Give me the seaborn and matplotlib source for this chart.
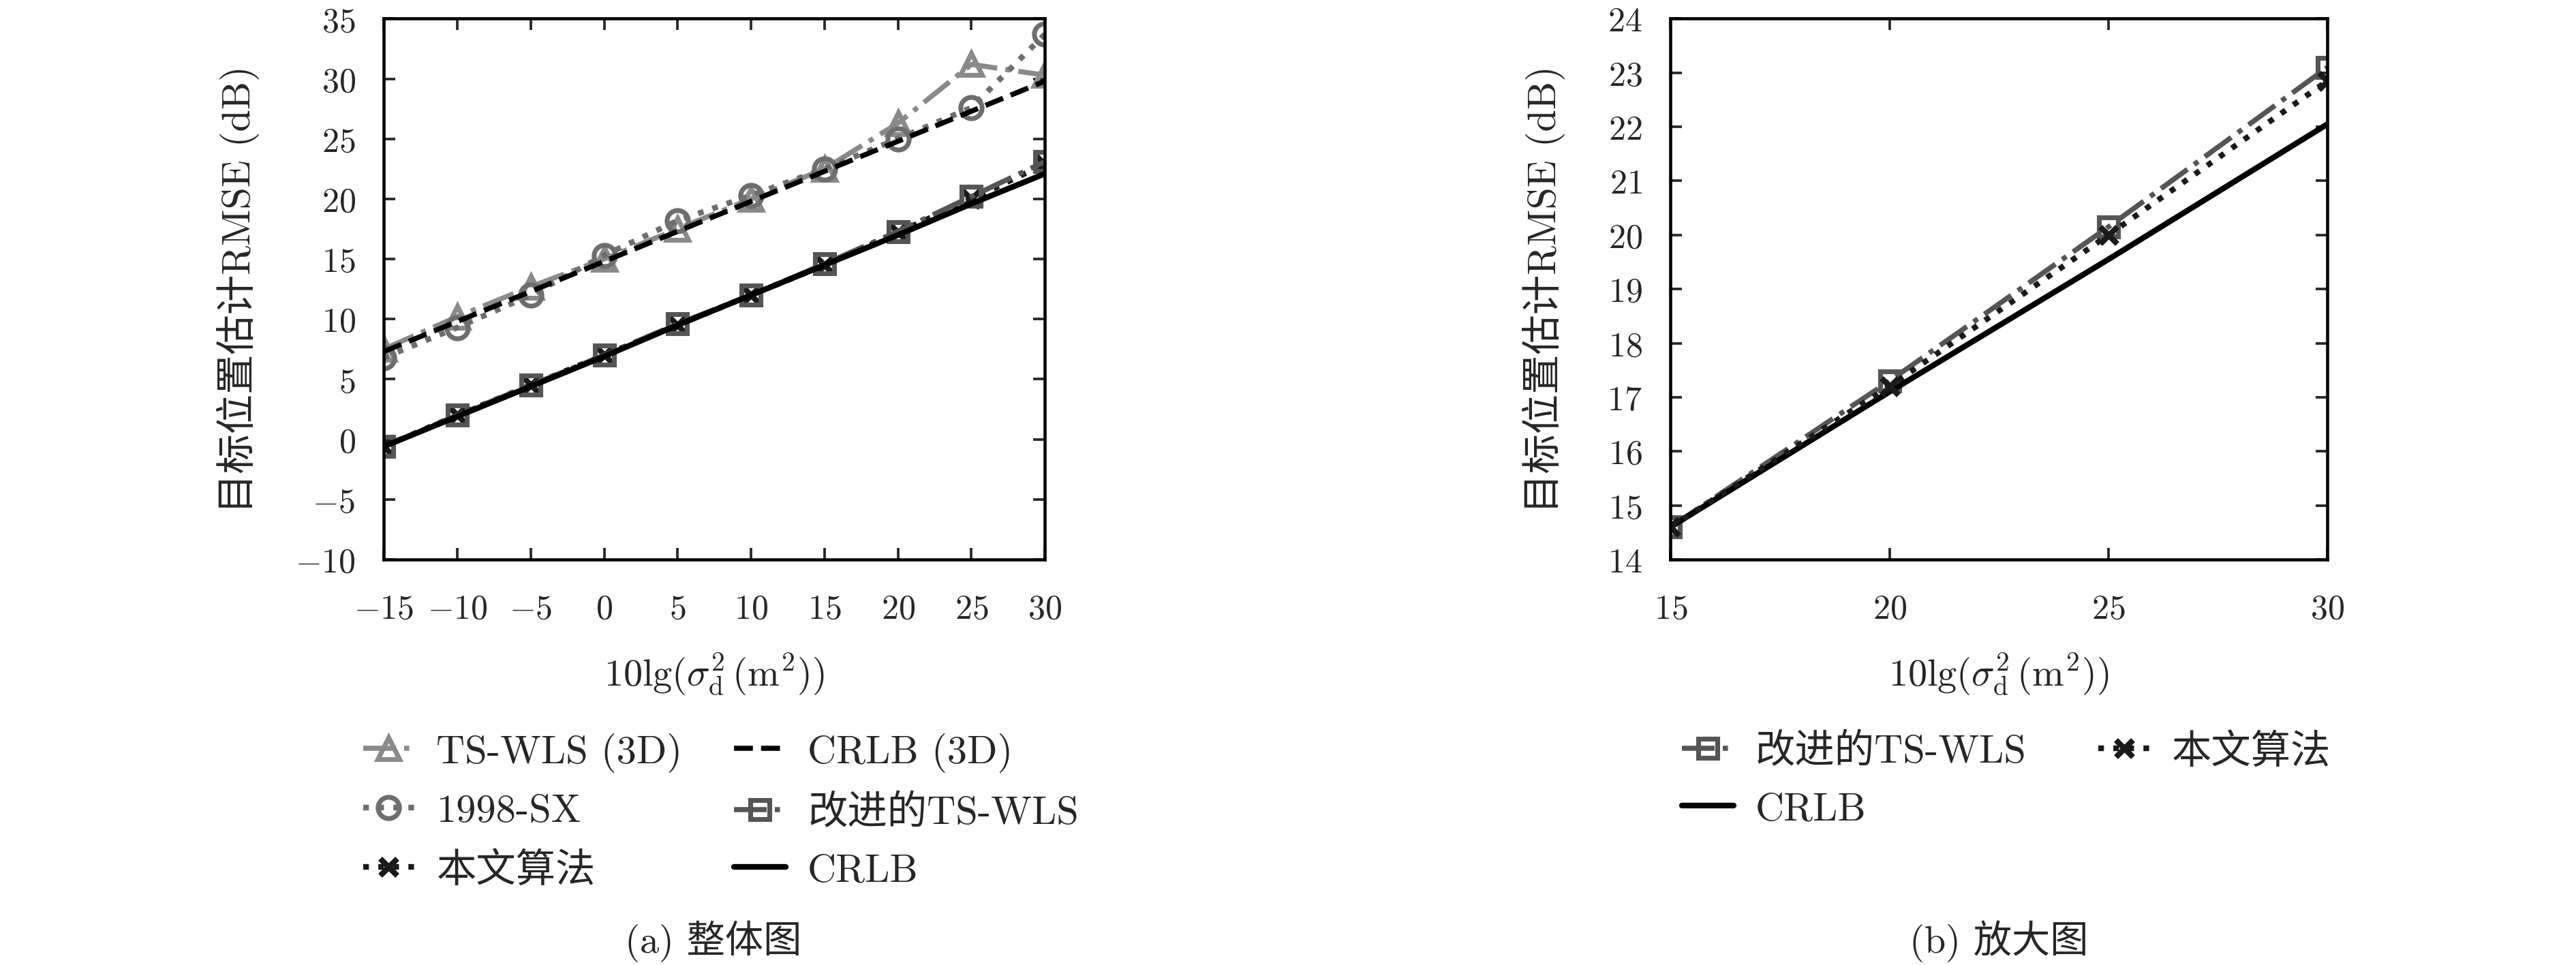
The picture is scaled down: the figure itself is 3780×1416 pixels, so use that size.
import matplotlib
matplotlib.use("Agg")
import matplotlib.pyplot as plt
import seaborn as sns
import numpy as np

# Data
snr_all = [-15, -10, -5, 0, 5, 10, 15, 20, 25, 30]
ts_wls_3d = [7.5, 10.2, 12.7, 15.0, 17.5, 20.0, 22.5, 26.3, 31.2, 30.3]
sx_1998 = [6.8, 9.3, 12.0, 15.3, 18.2, 20.3, 22.5, 25.0, 27.6, 33.7]
crlb_3d = [7.3, 9.8, 12.3, 14.8, 17.3, 19.8, 22.3, 24.8, 27.3, 29.8]
improved_ts_wls = [-0.6, 2.0, 4.5, 7.0, 9.6, 12.0, 14.6, 17.3, 20.2, 23.1]
proposed = [-0.6, 2.0, 4.5, 7.0, 9.5, 12.0, 14.5, 17.2, 20.0, 22.9]
crlb = [-0.6, 1.9, 4.4, 6.9, 9.5, 12.0, 14.5, 17.0, 19.6, 22.1]

snr_zoom = [15, 20, 25, 30]
improved_zoom = [14.6, 17.3, 20.15, 23.1]
proposed_zoom = [14.6, 17.2, 20.0, 22.85]
crlb_zoom = [14.6, 17.1, 19.55, 22.05]

sns.set_style("ticks")
plt.rcParams['font.family'] = ['cmr10', 'Noto Sans CJK SC', 'DejaVu Serif']
plt.rcParams['mathtext.fontset'] = 'cm'
plt.rcParams['axes.formatter.use_mathtext'] = True
plt.rcParams['axes.unicode_minus'] = True
plt.rcParams['font.size'] = 12

STYLES = {
    'TS-WLS (3D)': dict(color='#8a8a8a', linestyle='-.', marker='^', mfc='none', mec='#8a8a8a', ms=7.5, mew=1.7, lw=1.8),
    '1998-SX': dict(color='#6e6e6e', linestyle=':', marker='o', mfc='none', mec='#6e6e6e', ms=7.5, mew=1.7, lw=2.0),
    'CRLB (3D)': dict(color='black', linestyle='--', lw=1.8),
    '改进的TS-WLS': dict(color='#555555', linestyle='-.', marker='s', mfc='none', mec='#555555', ms=6.5, mew=1.7, lw=1.8),
    '本文算法': dict(color='#1a1a1a', linestyle=':', marker='x', mec='#1a1a1a', ms=6, mew=2.0, lw=2.0),
    'CRLB': dict(color='black', linestyle='-', lw=2.0),
}


def draw(ax, x, y, name):
    sns.lineplot(x=x, y=y, ax=ax, label=name, **STYLES[name])


def style_axes(ax, ylab_x):
    ax.tick_params(direction='in', top=True, right=True, length=4, width=0.9, labelsize=12, pad=10)
    ax.tick_params(axis='x', pad=12)
    for s in ax.spines.values():
        s.set_linewidth(1.1)
        s.set_color('black')
    ax.set_xlabel(r'10lg($\sigma_{\rm d}^2\,$(m$^2$))', fontsize=13.5)
    ax.set_ylabel('目标位置估计RMSE (dB)', fontsize=14)
    ax.xaxis.set_label_coords(0.5, -0.17)
    ax.yaxis.set_label_coords(ylab_x, 0.5)


fig = plt.figure(figsize=(12.6, 4.723), dpi=300)
ax1 = fig.add_axes([0.149, 0.42, 0.2566, 0.56])
ax2 = fig.add_axes([0.6485, 0.42, 0.255, 0.56])

# (a) overall
draw(ax1, snr_all, ts_wls_3d, 'TS-WLS (3D)')
draw(ax1, snr_all, sx_1998, '1998-SX')
draw(ax1, snr_all, proposed, '本文算法')
draw(ax1, snr_all, crlb_3d, 'CRLB (3D)')
draw(ax1, snr_all, improved_ts_wls, '改进的TS-WLS')
draw(ax1, snr_all, crlb, 'CRLB')
ax1.set_xlim(-15, 30)
ax1.set_ylim(-10, 35)
ax1.set_xticks(np.arange(-15, 31, 5))
ax1.set_yticks(np.arange(-10, 36, 5))
style_axes(ax1, -0.188)
ax1.legend(ncol=2, frameon=False, loc='upper left', bbox_to_anchor=(0.127, 0.278),
           bbox_transform=fig.transFigure, fontsize=14, handlelength=1.3,
           handletextpad=0.55, columnspacing=1.3, labelspacing=0.55)
fig.text(0.277, 0.0254, '(a) 整体图', ha='center', va='center', fontsize=13.5)

# (b) zoom
draw(ax2, snr_zoom, improved_zoom, '改进的TS-WLS')
draw(ax2, snr_zoom, crlb_zoom, 'CRLB')
draw(ax2, snr_zoom, proposed_zoom, '本文算法')
ax2.set_xlim(15, 30)
ax2.set_ylim(14, 24)
ax2.set_xticks([15, 20, 25, 30])
ax2.set_yticks(np.arange(14, 25, 1))
style_axes(ax2, -0.16)
ax2.legend(ncol=2, frameon=False, loc='upper left', bbox_to_anchor=(0.639, 0.278),
           bbox_transform=fig.transFigure, fontsize=14, handlelength=1.3,
           handletextpad=0.55, columnspacing=1.8, labelspacing=0.55)
fig.text(0.776, 0.0254, '(b) 放大图', ha='center', va='center', fontsize=13.5)

fig.savefig('out.png', dpi=300)
